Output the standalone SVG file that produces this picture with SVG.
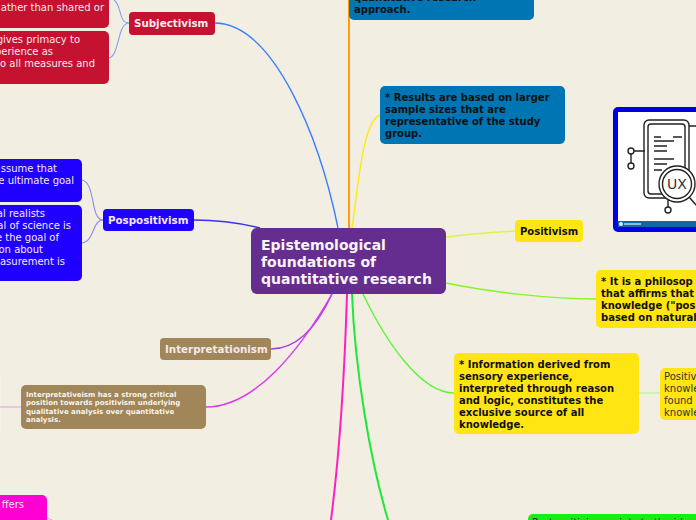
<svg xmlns="http://www.w3.org/2000/svg" width="696" height="520" viewBox="0 0 696 520">
<style>
text{font-family:"DejaVu Sans",sans-serif;font-size:10px}
.b{font-weight:bold}
.t{font-size:10.3px}
.k{fill:#111}
.w{fill:#f6e8ee}
.e{text-anchor:end}
.h{font-size:14px;fill:#f8f4fa;font-weight:bold}
.s{font-size:7px;font-weight:bold;fill:#f8f4ee}
.c{fill:none;stroke-width:1.1px}
.d{fill:none;stroke-width:2px}
</style>
<rect width="696" height="520" fill="#f2efe2"/>
<rect x="-10" y="378" width="11" height="57" fill="#f5f2e8"/>
<g id="connectors">
<path class="d" d="M349 228V0" stroke="#ff9d0a"/>
<path class="c" d="M338 228C320 140 275 24 215 23" stroke="#3d7dff" style="stroke-width:1.4px"/>
<path class="c" d="M352 228C358 190 362 122 380 115" stroke="#ffe81a" style="stroke-width:1.4px"/>
<path class="c" d="M446 237C470 234 490 232 515 231" stroke="#d8f54a" style="stroke-width:1.4px"/>
<path class="c" d="M446 283C490 292 550 299 596 299" stroke="#85f52a" style="stroke-width:1.4px"/>
<path class="c" d="M363 294C385 340 420 393 454 393" stroke="#5cf53a" style="stroke-width:1.4px"/>
<path class="c" d="M639 393H660" stroke="#b0f58a"/>
<path class="c" d="M260 228C240 223 215 220 194 220" stroke="#3a2cff" style="stroke-width:1.4px"/>
<path class="c" d="M103 220C90 220 96 183 82 180" stroke="#8d89f0"/>
<path class="c" d="M103 220C92 220 95 241 82 243" stroke="#8d89f0"/>
<path class="c" d="M129 23C118 23 122 5 114 0" stroke="#7ba4ef"/>
<path class="c" d="M129 23C117 23 120 55 109 58" stroke="#7ba4ef"/>
<path class="c" d="M332 294C320 320 300 349 271 349" stroke="#a63cf0" style="stroke-width:1.5px"/>
<path class="c" d="M332 294C300 350 255 407 206 407" stroke="#d83cf0" style="stroke-width:1.5px"/>
<path class="c" d="M21 407H0" stroke="#eeb0ee" style="stroke-width:1.5px"/>
<path class="d" d="M347 294C345 360 340 450 331 520" stroke="#ff1fc0"/>
<path class="d" d="M352 294C355 370 370 460 388 520" stroke="#1fe83a"/>
<path class="c" d="M47 518L52 520" stroke="#f5a0e0"/>
</g>
<g id="n-top"><rect x="349" y="-40" width="185" height="60" rx="5" fill="#0075b3"/><text class="b k" x="354" y="1">quantitative research</text><text class="b k" x="354" y="13">approach.</text></g>
<g id="n-results"><rect x="380" y="86" width="185" height="58" rx="5" fill="#0075b3"/><text class="b k" x="385" y="101">* Results are based on larger</text><text class="b k" x="385" y="113">sample sizes that are</text><text class="b k" x="385" y="125">representative of the study</text><text class="b k" x="385" y="137">group.</text></g>
<g id="n-image"><rect x="613" y="107" width="90" height="125" rx="5" fill="#0000e6"/><rect x="618" y="112" width="85" height="115" fill="#fff"/><rect x="618" y="221" width="85" height="6" fill="#0a6aa6"/><circle cx="621" cy="224" r="2" fill="#dfeef7"/><path d="M624 224h17" stroke="#b8d8ea" stroke-width="1.5"/>
<g fill="none" stroke="#222" stroke-width="1.4"><rect x="644" y="120" width="45" height="78" rx="5"/><rect x="648" y="124" width="37" height="70" rx="3"/><path d="M654 137h7M673 137h9M654 141h20M654 146h13M654 151h13M654 159h20M654 164h13M654 170h8M634 151h11M631 154v9M668 198v9M689 126h7"/><circle cx="631" cy="151" r="3"/><circle cx="631" cy="166" r="3"/><circle cx="668" cy="210" r="3"/><circle cx="677" cy="184" r="18" fill="#fff"/><circle cx="677" cy="184" r="14.500"/><path d="M689 197l8 9"/></g><text x="667" y="189" fill="#333" style="font-size:14px">UX</text></g>
<g id="n-positivism"><rect x="515" y="220" width="68" height="22" rx="4" fill="#ffe512"/><text class="b k" x="520" y="235">Positivism</text></g>
<g id="n-philo"><rect x="596" y="270" width="120" height="58" rx="5" fill="#ffe512"/><text class="b k" x="601" y="285">* It is a philosop</text><text class="b k" x="601" y="297">that affirms that</text><text class="b k" x="601" y="309">knowledge ("pos</text><text class="b k" x="601" y="321">based on natural</text></g>
<g id="n-info"><rect x="454" y="353" width="185" height="81" rx="5" fill="#ffe512"/><text class="b k" x="459" y="368">* Information derived from</text><text class="b k" x="459" y="380">sensory experience,</text><text class="b k" x="459" y="392">interpreted through reason</text><text class="b k" x="459" y="404">and logic, constitutes the</text><text class="b k" x="459" y="416">exclusive source of all</text><text class="b k" x="459" y="428">knowledge.</text></g>
<g id="n-posknow"><rect x="660" y="368" width="60" height="52" rx="5" fill="#ffe512"/><text x="664" y="380" fill="#333">Positiv</text><text x="664" y="392" fill="#333">knowle</text><text x="664" y="404" fill="#333">found</text><text x="664" y="416" fill="#333">knowle</text></g>
<g id="n-green"><rect x="528" y="514" width="190" height="20" rx="5" fill="#14f014"/><text x="532" y="526" fill="#111">Postpositivism points to the idea</text></g>
<g id="n-center"><rect x="251" y="228" width="195" height="66" rx="6" fill="#652d90"/><text class="h" x="261" y="250">Epistemological</text><text class="h" x="261" y="267">foundations of</text><text class="h" x="261" y="284">quantitative research</text></g>
<g id="n-subj"><rect x="129" y="12" width="86" height="23" rx="4" fill="#c41230"/><text class="b w t" x="134" y="27">Subjectivism</text></g>
<g id="n-subj1"><rect x="-60" y="-20" width="169" height="48" rx="5" fill="#c41230"/><text class="w e" x="104" y="11">ather than shared or</text></g>
<g id="n-subj2"><rect x="-60" y="31" width="169" height="53" rx="5" fill="#c41230"/><text class="w e" x="80" y="43">gives primacy to</text><text class="w e" x="53" y="55">perience as</text><text class="w e" x="95" y="67">o all measures and</text></g>
<g id="n-pos"><rect x="103" y="209" width="91" height="22" rx="4" fill="#1f00ff"/><text class="b w t" x="108" y="224">Pospositivism</text></g>
<g id="n-pos1"><rect x="-60" y="159" width="142" height="43" rx="5" fill="#1f00ff"/><text class="w e" x="57" y="172">ssume that</text><text class="w e" x="74" y="184">e ultimate goal</text></g>
<g id="n-pos2"><rect x="-60" y="205" width="142" height="76" rx="5" fill="#1f00ff"/><text class="w e" x="45" y="217">al realists</text><text class="w e" x="71" y="229">al of science is</text><text class="w e" x="59" y="241">e the goal of</text><text class="w e" x="43" y="253">on about</text><text class="w e" x="65" y="265">asurement is</text></g>
<g id="n-interp"><rect x="160" y="338" width="111" height="22" rx="4" fill="#a08658"/><text class="b w t" x="165" y="353">Interpretationism</text></g>
<g id="n-interp2"><rect x="21" y="385" width="185" height="44" rx="5" fill="#a08658"/><text class="s" x="26" y="397">Interpretativeism has a strong critical</text><text class="s" x="26" y="405">position towards positivism underlying</text><text class="s" x="26" y="414">qualitative analysis over quantitative</text><text class="s" x="26" y="422">analysis.</text></g>
<g id="n-pink"><rect x="-60" y="495" width="107" height="40" rx="5" fill="#ff00d4"/><text class="w e" x="24" y="508">ffers</text></g>
</svg>
